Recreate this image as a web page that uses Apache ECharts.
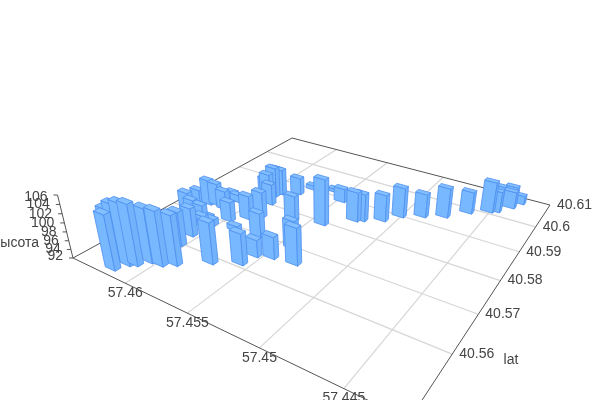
<!DOCTYPE html>
<html><head><meta charset="utf-8"><style>html,body{margin:0;padding:0;background:#fff}#c{width:600px;height:400px}</style>
<script src="https://cdn.jsdelivr.net/npm/echarts@6/dist/echarts.min.js"></script></head><body><div id="c"></div>
<script>
const lon=[57.4619,57.4627,57.4623,57.4615,57.4611,57.4606,57.4598,57.4591,57.4605,57.4627,57.4635,57.4620,57.4607,57.4611,57.4609,57.4611,57.4605,57.4574,57.4627,57.4622,57.4613,57.4599,57.4616,57.4612,57.4590,57.4584,57.4569,57.4587,57.4558,57.4556,57.4546,57.4596,57.4595,57.4595,57.4593,57.4590,57.4600,57.4582,57.4542,57.4576,57.4562,57.4542,57.4530,57.4560,57.4548,57.4526,57.4522,57.4510,57.4502,57.4489,57.4476,57.4464,57.4452,57.4448,57.4450,57.4441,57.4444,57.4437];
const lat=[40.5486,40.5505,40.5510,40.5508,40.5515,40.5534,40.5537,40.5551,40.5599,40.5680,40.5731,40.5674,40.5633,40.5672,40.5668,40.5689,40.5682,40.5587,40.5739,40.5745,40.5740,40.5711,40.5775,40.5777,40.5736,40.5755,40.5697,40.5690,40.5612,40.5644,40.5655,40.5819,40.5836,40.5848,40.5851,40.5805,40.5827,40.5871,40.5795,40.5903,40.5776,40.5699,40.5661,40.5919,40.5891,40.5840,40.5848,40.5869,40.5901,40.5924,40.5946,40.5986,40.6012,40.6020,40.6055,40.6051,40.6090,40.6078];
const height=[104.3,103.6,104.8,105.9,105.7,104.2,104.3,103.3,99.9,98.0,95.4,97.2,98.7,96.9,94.7,93.3,93.5,101.4,98.1,97.4,96.6,96.7,94.3,93.8,97.7,98.2,97.7,93.2,99.2,96.0,97.1,98.4,99.3,98.5,98.3,97.1,96.7,96.2,103.0,93.1,98.2,98.5,100.5,92.8,95.4,99.1,98.6,98.4,99.2,97.7,99.2,97.3,99.5,97.1,96.4,96.1,95.1,94.1];
const lonTicks=[57.46,57.455,57.45,57.445],latTicks=[40.56,40.57,40.58,40.59,40.6,40.61],zTicks=[92,94,96,98,100,102,104,106];
const lonMax=57.4648,lonMin=57.44165,latMin=40.5467,latMax=40.61,zMin=92,zMax=106;
const dLon=0.0009,dLat=0.0012;
const A=[73,258],D=[409,420],C=[550,205],B=[292,138],V=[324,1280],ZT=195;
const sx=A[0]-D[0]+C[0]-B[0],sy=A[1]-D[1]+C[1]-B[1],dx1=D[0]-C[0],dx2=B[0]-C[0],dy1=D[1]-C[1],dy2=B[1]-C[1],den=dx1*dy2-dx2*dy1;
const g=(sx*dy2-dx2*sy)/den,h=(dx1*sy-sx*dy1)/den;
const a=D[0]-A[0]+g*D[0],b=B[0]-A[0]+h*B[0],c=A[0],d=D[1]-A[1]+g*D[1],e=B[1]-A[1]+h*B[1],f=A[1];
const L=-(A[1]-ZT)/(V[1]-ZT);
function proj(x,y,z){const s=(lonMax-x)/(lonMax-lonMin),t=(y-latMin)/(latMax-latMin),n=(z-zMin)/(zMax-zMin);
const W=g*s+h*t+1+L*n;return [(a*s+b*t+c+L*n*V[0])/W,(d*s+e*t+f+L*n*V[1])/W];}
const rows=lon.map((v,i)=>[v,lat[i],height[i]]);
rows.sort((p,q)=>proj(p[0],p[1],zMin)[1]-proj(q[0],q[1],zMin)[1]);
const chart=echarts.init(document.getElementById('c'));
const txt='#444',ax='#555',gr='#d6d6d6';
function line(p,q,col,w){return {type:'line',shape:{x1:p[0],y1:p[1],x2:q[0],y2:q[1]},style:{stroke:col,lineWidth:w||1},silent:true};}
function text(s,x,y,al){return {type:'text',x:x,y:y,style:{text:s,fill:txt,font:'14px "Liberation Sans"',textAlign:al||'center',textVerticalAlign:'middle'},silent:true};}
function axes(){const ch=[];
lonTicks.forEach(v=>ch.push(line(proj(v,latMin,zMin),proj(v,latMax,zMin),gr,1.2)));
latTicks.slice(0,-1).forEach(v=>ch.push(line(proj(lonMin,v,zMin),proj(lonMax,v,zMin),gr,1.2)));
ch.push(line(proj(lonMax,latMin,zMin),proj(lonMax,latMax,zMin),ax));
ch.push(line(proj(lonMax,latMax,zMin),proj(lonMin,latMax,zMin),ax));
ch.push(line(proj(lonMin,latMax,zMin),proj(lonMin,latMin,zMin),ax));
ch.push(line(proj(lonMin,latMin,zMin),proj(lonMax,latMin,zMin),ax));
ch.push(line(proj(lonMax,latMin,zMin),proj(lonMax,latMin,zMax),ax));
zTicks.forEach((v,i)=>{const p=proj(lonMax,latMin,v);ch.push(line(p,[p[0]-4,p[1]],ax));ch.push(text(String(v),p[0]-10,p[1]+(i===0?-2:i===zTicks.length-1?2:0),'right'));});
lonTicks.forEach(v=>{const p=proj(v,latMin,zMin);ch.push(text(String(v),p[0],p[1]+10));});
latTicks.forEach(v=>{const p=proj(lonMin,v,zMin);ch.push(text(String(v),p[0]+7,p[1],'left'));});
ch.push(text('lat',511,360));ch.push(text('высота',16,243));
return {type:'group',children:ch};}
function bar(p,api){const lo=api.value(0),la=api.value(1),z=api.value(2);
const x0=lo-dLon/2,x1=lo+dLon/2,y0=la-dLat/2,y1=la+dLat/2;
const poly=(pp,fill)=>({type:'polygon',shape:{points:pp},style:{fill:fill,stroke:'#4d8ff0',lineWidth:0.8},silent:true});
return {type:'group',children:[
poly([proj(x1,y0,zMin),proj(x0,y0,zMin),proj(x0,y0,z),proj(x1,y0,z)],'#78b8ff'),
poly([proj(x0,y0,zMin),proj(x0,y1,zMin),proj(x0,y1,z),proj(x0,y0,z)],'#72b2fb'),
poly([proj(x1,y0,z),proj(x0,y0,z),proj(x0,y1,z),proj(x1,y1,z)],'#84c0ff')]};}
chart.setOption({animation:false,series:[
{type:'custom',coordinateSystem:'none',data:[[0]],renderItem:axes,silent:true,z:1},
{type:'custom',coordinateSystem:'none',data:rows,renderItem:bar,silent:true,z:2}]});
</script></body></html>
